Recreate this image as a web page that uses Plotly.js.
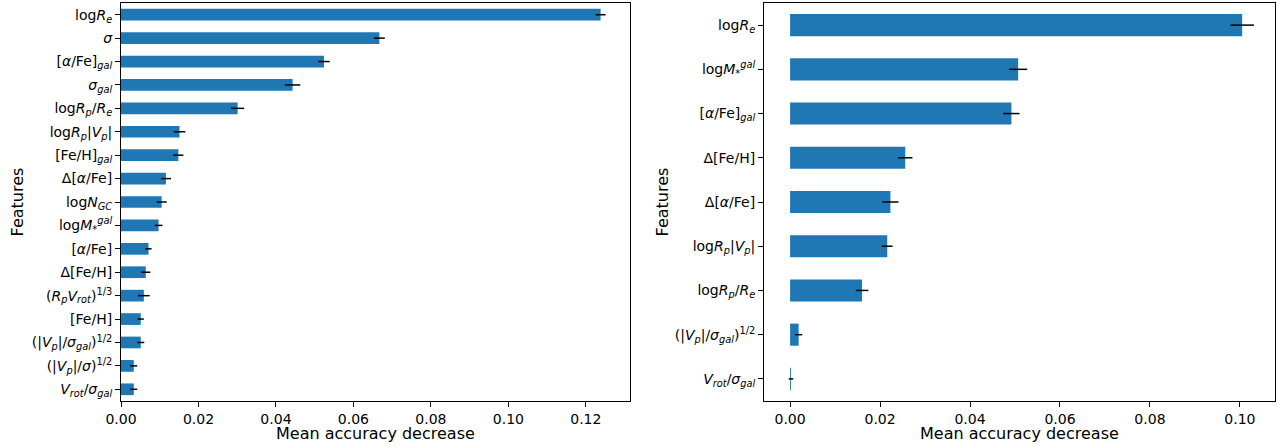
<!DOCTYPE html>
<html>
<head>
<meta charset="utf-8">
<script src="https://cdn.plot.ly/plotly-3.0.1.min.js"></script>
<style>html,body{margin:0;padding:0;background:#fff;}#chart{width:1278px;height:447px;}</style>
</head>
<body>
<div id="chart"></div>
<script>
// Left panel (top to bottom)
const leftLabels = [
  'log<i>R</i><sub><i>e</i></sub>',
  '<i>σ</i>',
  '[<i>α</i>/Fe]<sub><i>gal</i></sub>',
  '<i>σ</i><sub><i>gal</i></sub>',
  'log<i>R</i><sub><i>p</i></sub>/<i>R</i><sub><i>e</i></sub>',
  'log<i>R</i><sub><i>p</i></sub>|<i>V</i><sub><i>p</i></sub>|',
  '[Fe/H]<sub><i>gal</i></sub>',
  'Δ[<i>α</i>/Fe]',
  'log<i>N</i><sub><i>GC</i></sub>',
  'log<i>M</i><sub>*</sub><sup><i>gal</i></sup>',
  '[<i>α</i>/Fe]',
  'Δ[Fe/H]',
  '(<i>R</i><sub><i>p</i></sub><i>V</i><sub><i>rot</i></sub>)<sup>1/3</sup>',
  '[Fe/H]',
  '(|<i>V</i><sub><i>p</i></sub>|/<i>σ</i><sub><i>gal</i></sub>)<sup>1/2</sup>',
  '(|<i>V</i><sub><i>p</i></sub>|/<i>σ</i>)<sup>1/2</sup>',
  '<i>V</i><sub><i>rot</i></sub>/<i>σ</i><sub><i>gal</i></sub>'
];
const leftValues = [0.1238, 0.0667, 0.0524, 0.0443, 0.0301, 0.0151, 0.0148, 0.0116, 0.0105, 0.0097, 0.0071, 0.0064, 0.0059, 0.0051, 0.0051, 0.0033, 0.0033];
const leftErrors = [0.0013, 0.0014, 0.0015, 0.0020, 0.0017, 0.0015, 0.0013, 0.0013, 0.0013, 0.0010, 0.0008, 0.0012, 0.0015, 0.0008, 0.0009, 0.0009, 0.0009];

// Right panel (top to bottom)
const rightLabels = [
  'log<i>R</i><sub><i>e</i></sub>',
  'log<i>M</i><sub>*</sub><sup><i>gal</i></sup>',
  '[<i>α</i>/Fe]<sub><i>gal</i></sub>',
  'Δ[Fe/H]',
  'Δ[<i>α</i>/Fe]',
  'log<i>R</i><sub><i>p</i></sub>|<i>V</i><sub><i>p</i></sub>|',
  'log<i>R</i><sub><i>p</i></sub>/<i>R</i><sub><i>e</i></sub>',
  '(|<i>V</i><sub><i>p</i></sub>|/<i>σ</i><sub><i>gal</i></sub>)<sup>1/2</sup>',
  '<i>V</i><sub><i>rot</i></sub>/<i>σ</i><sub><i>gal</i></sub>'
];
const rightValues = [0.1005, 0.0507, 0.0492, 0.0256, 0.0223, 0.0216, 0.0160, 0.0019, 0.0002];
const rightErrors = [0.0026, 0.0020, 0.0018, 0.0016, 0.0018, 0.0012, 0.0014, 0.0008, 0.0005];

const xTickVals = [0, 0.02, 0.04, 0.06, 0.08, 0.10, 0.12];
const xTitle = 'Mean accuracy decrease';
const yTitle = 'Features';

const barColor = '#1f77b4';
const FONT = 'DejaVu Sans, Liberation Sans, sans-serif';

function barTrace(labels, values, errors, xa, ya) {
  return {
    type: 'bar', orientation: 'h',
    x: values, y: labels, xaxis: xa, yaxis: ya,
    marker: {color: barColor},
    error_x: {type: 'data', array: errors, visible: true, color: '#000', thickness: 1.5, width: 0},
    hoverinfo: 'x+y', showlegend: false
  };
}

const axisCommon = {
  showgrid: false, zeroline: false, showline: true, mirror: true,
  linecolor: '#000', linewidth: 1, ticks: 'outside', ticklen: 5, tickwidth: 1,
  tickcolor: '#000', tickfont: {family: FONT, size: 14, color: '#000'}, automargin: false
};
const titleFont = {family: FONT, size: 16, color: '#000'};

const yDom = [46/447, 444/447];
const xDomL = [121/1278, 630/1278];
const xDomR = [764/1278, 1275/1278];
const xTitleY = 1 - 433/447;

const layout = {
  width: 1278, height: 447,
  margin: {l: 0, r: 0, t: 0, b: 0},
  paper_bgcolor: '#fff', plot_bgcolor: '#fff',
  bargap: 0.5,
  font: {family: FONT, color: '#000'},
  xaxis: Object.assign({}, axisCommon, {
    domain: xDomL, range: [0, 0.1314], anchor: 'y',
    tickvals: xTickVals, tickformat: '.2f'
  }),
  yaxis: Object.assign({}, axisCommon, {
    domain: yDom, type: 'category', range: [leftLabels.length - 0.5, -0.5], anchor: 'x',
    title: {text: yTitle, font: titleFont, standoff: 4}
  }),
  xaxis2: Object.assign({}, axisCommon, {
    domain: xDomR, range: [-0.0058, 0.1078], anchor: 'y2',
    tickvals: xTickVals, tickformat: '.2f'
  }),
  yaxis2: Object.assign({}, axisCommon, {
    domain: yDom, type: 'category', range: [rightLabels.length - 0.5, -0.5], anchor: 'x2',
    title: {text: yTitle, font: titleFont, standoff: 2}
  }),
  annotations: [
    {text: xTitle, xref: 'paper', yref: 'paper', x: (xDomL[0] + xDomL[1]) / 2, y: xTitleY,
     xanchor: 'center', yanchor: 'middle', showarrow: false, font: titleFont},
    {text: xTitle, xref: 'paper', yref: 'paper', x: (xDomR[0] + xDomR[1]) / 2, y: xTitleY,
     xanchor: 'center', yanchor: 'middle', showarrow: false, font: titleFont}
  ]
};

Plotly.newPlot('chart', [
  barTrace(leftLabels, leftValues, leftErrors, 'x', 'y'),
  barTrace(rightLabels, rightValues, rightErrors, 'x2', 'y2')
], layout, {displayModeBar: false, staticPlot: true});
</script>
</body>
</html>
